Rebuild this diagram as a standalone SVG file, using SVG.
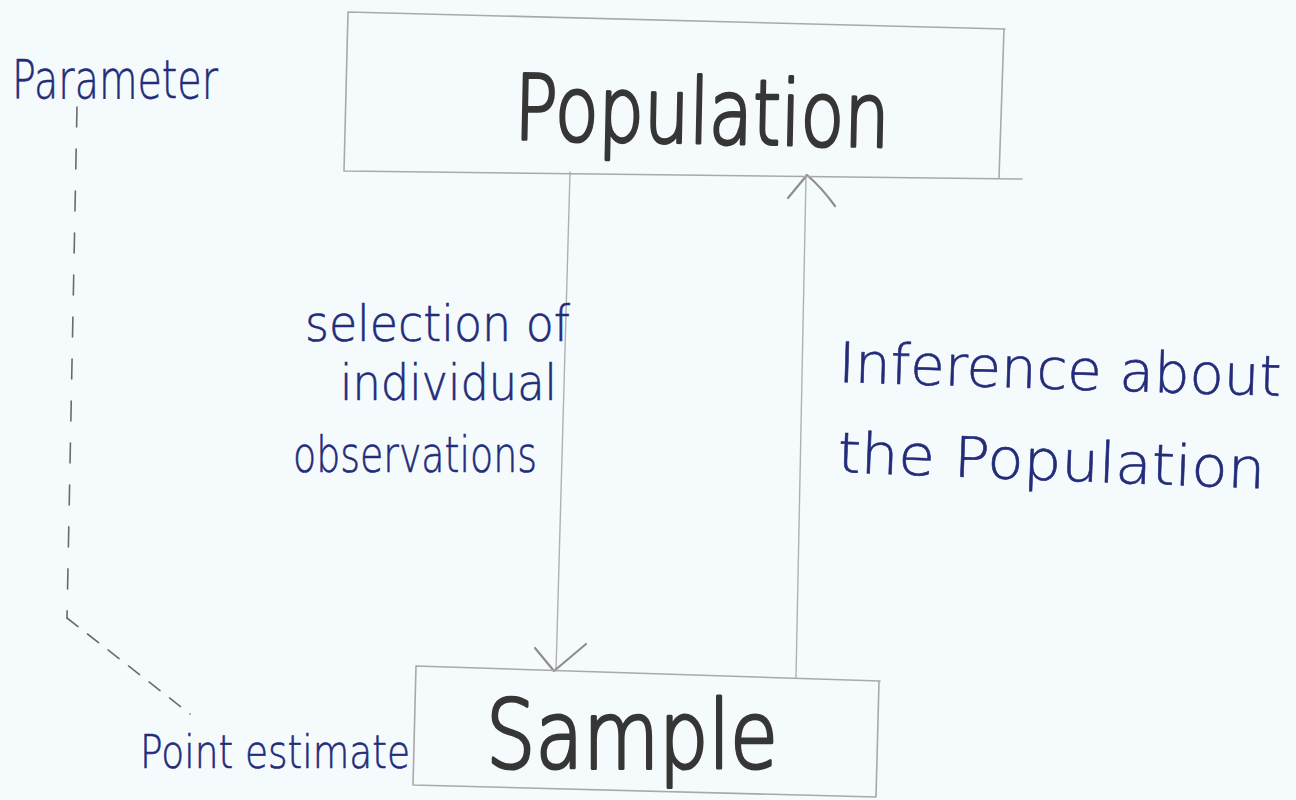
<svg xmlns="http://www.w3.org/2000/svg" width="1296" height="800" viewBox="0 0 1296 800">
  <style>
    .paper { fill: #f5fbfc; }
    .box { fill: none; stroke: #a9a9a9; stroke-width: 1.6; stroke-linecap: round; stroke-linejoin: round; }
    .link { fill: none; stroke: #b0b0b0; stroke-width: 1.4; stroke-linecap: round; }
    .head { fill: none; stroke: #8e8e8e; stroke-width: 2.2; stroke-linecap: round; stroke-linejoin: round; }
    .dash { fill: none; stroke: #6a6a6a; stroke-width: 1.6; stroke-linecap: round; }
    .dash-v { stroke-dasharray: 20 22; }
    .dash-d { stroke-dasharray: 14 12; }
    .title { font-family: "DejaVu Sans", "Liberation Sans", sans-serif; font-weight: 200; fill: #363636; stroke: #363636; stroke-width: 3.2; stroke-linejoin: round; }
    .pen { font-family: "DejaVu Sans", "Liberation Sans", sans-serif; font-weight: 200; fill: #232c7a; stroke: #232c7a; stroke-width: 0.6; }
  </style>

  <rect class="paper" x="0" y="0" width="1296" height="800"/>

  <!-- dashed link: Parameter down to Point estimate -->
  <g id="param-link">
    <path class="dash dash-v" d="M77,107 L67,618"/>
    <path class="dash dash-d" d="M67,618 L190,714"/>
  </g>

  <!-- connectors between the two boxes -->
  <g id="connectors">
    <path class="link" d="M570,172 L556,671"/>
    <path class="head" d="M535,648 L554,671 L586,644"/>
    <path class="link" d="M796,678 L806,176"/>
    <path class="head" d="M788,198 L807,175 Q822,188 835,206"/>
  </g>

  <g id="node-population">
    <path class="box" d="M348,12 L1005,29 M1004,29 L999,178 M344,171 L1022,179 M348,12 L344,171"/>
    <text class="title" x="514" y="143" font-size="90" textLength="375" lengthAdjust="spacingAndGlyphs" transform="rotate(1.2 700 140)">Population</text>
  </g>

  <g id="node-sample">
    <path class="box" d="M416,666 L880,681 M879,682 L876,797 M413,785 L876,797 M416,666 L413,785"/>
    <text class="title" x="486" y="768" font-size="94" textLength="292" lengthAdjust="spacingAndGlyphs">Sample</text>
  </g>

  <g id="label-parameter">
    <text class="pen" x="12" y="98" font-size="54" textLength="206" lengthAdjust="spacingAndGlyphs">Parameter</text>
  </g>

  <g id="label-point-estimate">
    <text class="pen" x="140" y="768" font-size="46" textLength="270" lengthAdjust="spacingAndGlyphs">Point estimate</text>
  </g>

  <g id="label-selection">
    <text class="pen" x="305" y="341" font-size="50" textLength="265" lengthAdjust="spacingAndGlyphs">selection of</text>
    <text class="pen" x="340" y="400" font-size="50" textLength="217" lengthAdjust="spacingAndGlyphs">individual</text>
    <text class="pen" x="293" y="472" font-size="50" textLength="244" lengthAdjust="spacingAndGlyphs">observations</text>
  </g>

  <g id="label-inference">
    <text class="pen" x="838" y="382" font-size="56" textLength="443" lengthAdjust="spacingAndGlyphs" transform="rotate(1.8 838 382)">Inference about</text>
    <text class="pen" x="837" y="472" font-size="56" textLength="428" lengthAdjust="spacingAndGlyphs" transform="rotate(2.2 837 472)">the Population</text>
  </g>
</svg>
